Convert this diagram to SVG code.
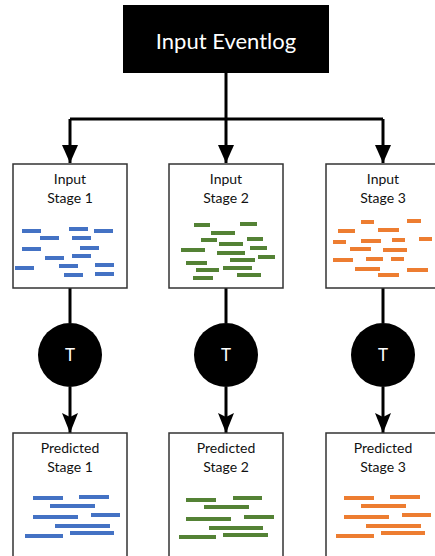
<svg xmlns="http://www.w3.org/2000/svg" width="435" height="556" viewBox="0 0 435 556">
  <defs>
    <!-- solid triangle head for the distribution arrows -->
    <marker id="tri" viewBox="0 0 18 16" refX="18" refY="8" markerWidth="18" markerHeight="16" markerUnits="userSpaceOnUse" orient="auto">
      <path d="M0,0 L18,8 L0,16 Z" fill="#000"/>
    </marker>
    <!-- swept-back head for the transform arrows -->
    <marker id="stealth" viewBox="0 0 20 16" refX="20" refY="8" markerWidth="20" markerHeight="16" markerUnits="userSpaceOnUse" orient="auto">
      <path d="M0,0 L20,8 L0,16 L4,8 Z" fill="#000"/>
    </marker>
  </defs>
  <style>
    .box { fill: #fff; stroke: #333; stroke-width: 1.5; }
    .lbl { font-family: Lato, "Liberation Sans", sans-serif; font-size: 14px; fill: #111; text-anchor: middle; }
    .head { font-family: Lato, "Liberation Sans", sans-serif; font-size: 22px; fill: #fff; text-anchor: middle; }
    .tlbl { font-family: Lato, "Liberation Sans", sans-serif; font-size: 17px; fill: #fff; text-anchor: middle; }
    .wire { fill: none; stroke: #000; stroke-width: 3; }
    .blue rect { fill: #4472C4; }
    .green rect { fill: #548235; }
    .orange rect { fill: #ED7D31; }
  </style>

  <rect width="435" height="556" fill="#fff"/>

  <!-- connectors -->
  <g id="connectors">
    <path class="wire" d="M226,73 V119"/>
    <path class="wire" d="M70,119 H383"/>
    <path class="wire" d="M70,119 V163" marker-end="url(#tri)"/>
    <path class="wire" d="M226,119 V163" marker-end="url(#tri)"/>
    <path class="wire" d="M383,119 V163" marker-end="url(#tri)"/>
    <path class="wire" d="M70,288 V323"/>
    <path class="wire" d="M226,288 V323"/>
    <path class="wire" d="M383,288 V323"/>
    <path class="wire" d="M70,387 V433" marker-end="url(#stealth)"/>
    <path class="wire" d="M226,387 V433" marker-end="url(#stealth)"/>
    <path class="wire" d="M383,387 V433" marker-end="url(#stealth)"/>
  </g>

  <!-- source -->
  <g id="input-eventlog">
    <rect x="123" y="5" width="206" height="68" fill="#000"/>
    <text class="head" x="226" y="49">Input Eventlog</text>
  </g>

  <!-- input stages -->
  <g id="input-stage-1">
    <rect class="box" x="13" y="164" width="114" height="124"/>
    <text class="lbl" x="70" y="184">Input</text>
    <text class="lbl" x="70" y="203">Stage 1</text>
    <g class="blue">
      <rect x="22" y="229" width="19" height="4"/>
      <rect x="69" y="227" width="19" height="4"/>
      <rect x="94" y="229" width="19" height="4"/>
      <rect x="40" y="236" width="19" height="4"/>
      <rect x="72" y="236" width="19" height="4"/>
      <rect x="22" y="247" width="19" height="4"/>
      <rect x="80" y="246" width="19" height="4"/>
      <rect x="45" y="256" width="19" height="4"/>
      <rect x="72" y="254" width="19" height="4"/>
      <rect x="15" y="266" width="19" height="4"/>
      <rect x="59" y="264" width="19" height="4"/>
      <rect x="95" y="263" width="19" height="4"/>
      <rect x="64" y="273" width="19" height="4"/>
      <rect x="95" y="272" width="19" height="4"/>
    </g>
  </g>

  <g id="input-stage-2">
    <rect class="box" x="169" y="164" width="114" height="124"/>
    <text class="lbl" x="226" y="184">Input</text>
    <text class="lbl" x="226" y="203">Stage 2</text>
    <g class="green">
      <rect x="194" y="223" width="16" height="4"/>
      <rect x="240" y="222" width="17" height="4"/>
      <rect x="211" y="231" width="24" height="4"/>
      <rect x="201" y="238" width="16" height="4"/>
      <rect x="219" y="242" width="24" height="4"/>
      <rect x="247" y="237" width="16" height="4"/>
      <rect x="181" y="248" width="24" height="4"/>
      <rect x="250" y="246" width="17" height="4"/>
      <rect x="217" y="251" width="28" height="4"/>
      <rect x="258" y="255" width="17" height="4"/>
      <rect x="186" y="261" width="21" height="4"/>
      <rect x="230" y="258" width="25" height="4"/>
      <rect x="196" y="268" width="23" height="4"/>
      <rect x="223" y="266" width="29" height="4"/>
      <rect x="193" y="276" width="20" height="4"/>
      <rect x="237" y="273" width="24" height="4"/>
    </g>
  </g>

  <g id="input-stage-3">
    <rect class="box" x="326" y="164" width="114" height="124"/>
    <text class="lbl" x="383" y="184">Input</text>
    <text class="lbl" x="383" y="203">Stage 3</text>
    <g class="orange">
      <rect x="361" y="220" width="13" height="4"/>
      <rect x="407" y="219" width="14" height="4"/>
      <rect x="338" y="229" width="17" height="4"/>
      <rect x="378" y="228" width="21" height="4"/>
      <rect x="333" y="240" width="13" height="4"/>
      <rect x="361" y="239" width="20" height="4"/>
      <rect x="392" y="238" width="13" height="4"/>
      <rect x="419" y="237" width="13" height="4"/>
      <rect x="350" y="247" width="21" height="4"/>
      <rect x="383" y="248" width="24" height="4"/>
      <rect x="333" y="258" width="20" height="4"/>
      <rect x="366" y="257" width="17" height="4"/>
      <rect x="391" y="257" width="13" height="4"/>
      <rect x="355" y="267" width="25" height="4"/>
      <rect x="407" y="268" width="21" height="4"/>
      <rect x="378" y="273" width="21" height="4"/>
    </g>
  </g>

  <!-- transform steps -->
  <g id="transform-1">
    <circle cx="70" cy="355" r="32" fill="#000"/>
    <text class="tlbl" x="70" y="361">T</text>
  </g>
  <g id="transform-2">
    <circle cx="226" cy="355" r="32" fill="#000"/>
    <text class="tlbl" x="226" y="361">T</text>
  </g>
  <g id="transform-3">
    <circle cx="383" cy="355" r="32" fill="#000"/>
    <text class="tlbl" x="383" y="361">T</text>
  </g>

  <!-- predicted stages -->
  <g id="predicted-stage-1">
    <rect class="box" x="13" y="433" width="114" height="130"/>
    <text class="lbl" x="70" y="453">Predicted</text>
    <text class="lbl" x="70" y="472">Stage 1</text>
    <g class="blue">
      <rect x="33" y="496" width="30" height="4"/>
      <rect x="79" y="495" width="30" height="4"/>
      <rect x="50" y="504" width="45" height="4"/>
      <rect x="33" y="515" width="45" height="4"/>
      <rect x="91" y="513" width="29" height="4"/>
      <rect x="55" y="524" width="55" height="4"/>
      <rect x="25" y="534" width="38" height="4"/>
      <rect x="70" y="531" width="44" height="4"/>
    </g>
  </g>

  <g id="predicted-stage-2">
    <rect class="box" x="169" y="433" width="114" height="130"/>
    <text class="lbl" x="226" y="453">Predicted</text>
    <text class="lbl" x="226" y="472">Stage 2</text>
    <g class="green">
      <rect x="186" y="498" width="30" height="4"/>
      <rect x="233" y="496" width="29" height="4"/>
      <rect x="204" y="505" width="45" height="4"/>
      <rect x="186" y="517" width="45" height="4"/>
      <rect x="244" y="515" width="30" height="4"/>
      <rect x="209" y="526" width="54" height="4"/>
      <rect x="179" y="535" width="37" height="4"/>
      <rect x="223" y="533" width="45" height="4"/>
    </g>
  </g>

  <g id="predicted-stage-3">
    <rect class="box" x="326" y="433" width="114" height="130"/>
    <text class="lbl" x="383" y="453">Predicted</text>
    <text class="lbl" x="383" y="472">Stage 3</text>
    <g class="orange">
      <rect x="344" y="496" width="30" height="4"/>
      <rect x="390" y="495" width="30" height="4"/>
      <rect x="361" y="504" width="45" height="4"/>
      <rect x="344" y="515" width="45" height="4"/>
      <rect x="402" y="513" width="29" height="4"/>
      <rect x="366" y="524" width="55" height="4"/>
      <rect x="336" y="534" width="38" height="4"/>
      <rect x="381" y="531" width="44" height="4"/>
    </g>
  </g>
</svg>
